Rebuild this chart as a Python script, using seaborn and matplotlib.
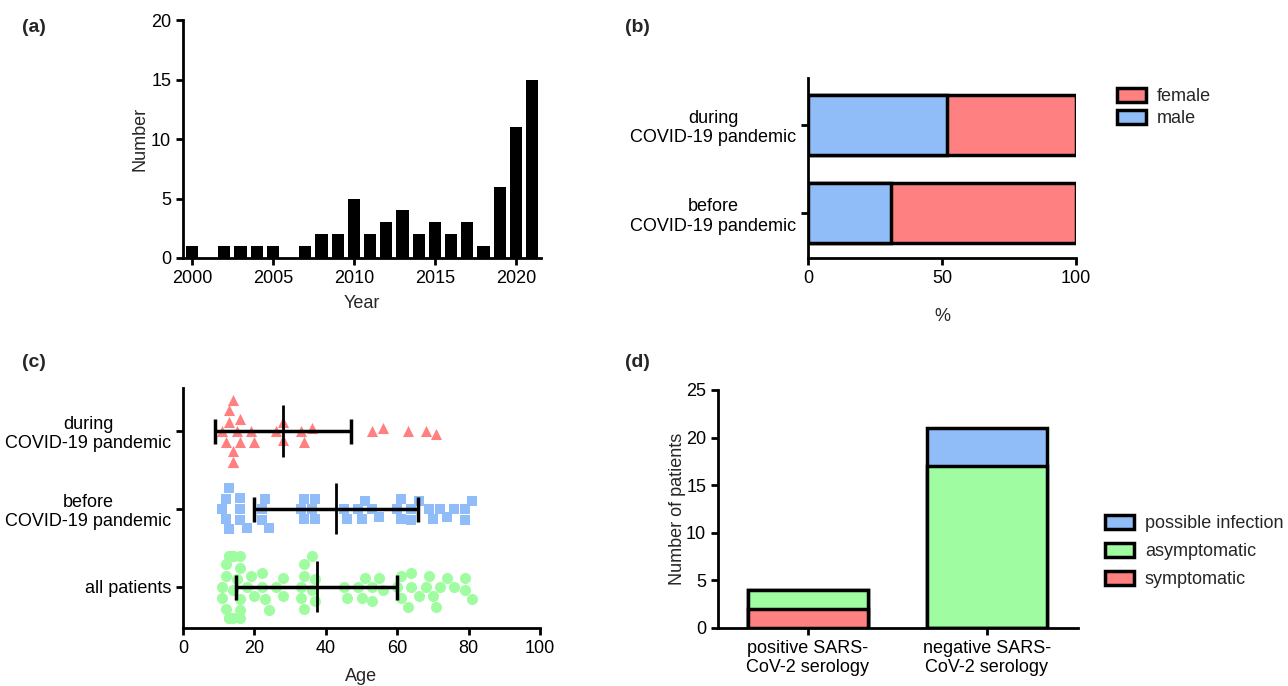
import numpy as np
import pandas as pd
import seaborn as sns
import matplotlib.pyplot as plt
from matplotlib.patches import Patch

# (a) publications per year
years = list(range(2000, 2022))
papers = [1, 0, 1, 1, 1, 1, 0, 1, 2, 2, 5, 2, 3, 4, 2, 3, 2, 3, 1, 6, 11, 15]

# (b) sex distribution (%)
groups_b = ['during\nCOVID-19 pandemic', 'before\nCOVID-19 pandemic']
male_pct = [52, 31]
female_pct = [48, 69]

# (c) age of patients
groups_c = ['during\nCOVID-19 pandemic', 'before\nCOVID-19 pandemic', 'all patients']
during_ages = [11, 12, 13, 13, 14, 14, 14, 14, 15, 16, 16, 19, 20, 26, 28, 28,
               33, 34, 36, 53, 56, 63, 68, 71]
before_ages = [11, 12, 12, 13, 13, 16, 16, 16, 18, 22, 22, 23, 24, 33, 34, 34,
               36, 37, 37, 45, 46, 49, 50, 51, 53, 55, 60, 61, 61, 64, 64, 66,
               69, 70, 72, 74, 76, 79, 79, 81]
all_ages = during_ages + before_ages
age_mean = [28.0, 42.8, 37.4]
age_sd = [19.0, 22.9, 22.6]

# (d) serology
serology = ['positive SARS-\nCoV-2 serology', 'negative SARS-\nCoV-2 serology']
symptomatic = [2, 0]
asymptomatic = [2, 17]
possible = [0, 4]

red = '#ff8080'
blue = '#90bdf7'
green = '#a0fca0'

sns.set_style('ticks')
plt.rcParams['font.family'] = ['Liberation Sans', 'DejaVu Sans']
plt.rcParams.update({
    'font.size': 13,
    'axes.linewidth': 2,
    'xtick.major.width': 2,
    'ytick.major.width': 2,
    'xtick.major.size': 5,
    'ytick.major.size': 5,
    'xtick.labelsize': 13,
    'ytick.labelsize': 13,
    'axes.labelsize': 13,
    'xtick.color': 'black',
    'ytick.color': 'black',
    'axes.edgecolor': 'black',
})

W, H = 1288, 686
fig = plt.figure(figsize=(W / 100, H / 100), dpi=100)


def box(l, t, r, b):
    return [l / W, 1 - b / H, (r - l) / W, (b - t) / H]


ax_a = fig.add_axes(box(183, 20, 541, 258))
ax_b = fig.add_axes(box(808, 78, 1076, 258))
ax_c = fig.add_axes(box(183, 388, 540, 628))
ax_d = fig.add_axes(box(718, 390, 1078, 628))

# ---- (a)
sns.barplot(x=years, y=papers, native_scale=True, color='black', width=0.75,
            saturation=1, linewidth=0, ax=ax_a)
ax_a.set_xlim(1999.45, 2021.55)
ax_a.set_ylim(0, 20)
ax_a.set_xticks(range(2000, 2021, 5))
ax_a.set_yticks(range(0, 21, 5))
ax_a.set_xlabel('Year', labelpad=6)
ax_a.set_ylabel('Number', labelpad=2)
sns.despine(ax=ax_a)

# ---- (b)
df_b = pd.DataFrame({'group': groups_b, 'male': male_pct, 'female': female_pct})
df_b['total'] = df_b['male'] + df_b['female']
sns.barplot(data=df_b, x='total', y='group', orient='h', color=red,
            edgecolor='black', linewidth=2.5, width=0.68, saturation=1, ax=ax_b)
sns.barplot(data=df_b, x='male', y='group', orient='h', color=blue,
            edgecolor='black', linewidth=2.5, width=0.68, saturation=1, ax=ax_b)
ax_b.set_xlim(0, 100)
ax_b.set_ylim(1.51, -0.53)
ax_b.set_xticks([0, 50, 100])
ax_b.set_xlabel('%', labelpad=15)
ax_b.set_ylabel('')
for t in ax_b.get_yticklabels():
    t.set_multialignment('center')
sns.despine(ax=ax_b)
fig.legend(handles=[Patch(facecolor=red, edgecolor='black', linewidth=2.5, label='female'),
                    Patch(facecolor=blue, edgecolor='black', linewidth=2.5, label='male')],
           loc='upper left', bbox_to_anchor=(1110 / W, 1 - 81 / H), frameon=False,
           handlelength=1.6, handleheight=0.8, labelspacing=0.25, handletextpad=0.6,
           borderaxespad=0, fontsize=13)

# ---- (c)
df_c = pd.concat([
    pd.DataFrame({'age': during_ages, 'group': groups_c[0]}),
    pd.DataFrame({'age': before_ages, 'group': groups_c[1]}),
    pd.DataFrame({'age': all_ages, 'group': groups_c[2]}),
])
markers = ['^', 's', 'o']
colors = [red, blue, green]
sizes = [8, 7.5, 8]
for g, m, c, s in zip(groups_c, markers, colors, sizes):
    sns.swarmplot(data=df_c[df_c['group'] == g], x='age', y='group', order=groups_c,
                  orient='h', marker=m, color=c, size=s, linewidth=0, ax=ax_c,
                  warn_thresh=1)
ypos = np.arange(len(groups_c))
ax_c.errorbar(age_mean, ypos, xerr=age_sd, fmt='none', ecolor='black',
              elinewidth=2.5, capsize=9, capthick=2.5, zorder=5)
ax_c.vlines(age_mean, ypos - 0.33, ypos + 0.33, color='black', lw=2, zorder=5)
ax_c.set_xlim(0, 100)
ax_c.set_ylim(2.53, -0.55)
ax_c.set_xticks(range(0, 101, 20))
ax_c.set_xlabel('Age', labelpad=8)
ax_c.set_ylabel('')
for t in ax_c.get_yticklabels():
    t.set_multialignment('center')
sns.despine(ax=ax_c)

# ---- (d)
df_d = pd.DataFrame({'serology': serology, 'sym': symptomatic,
                     'asym': asymptomatic, 'poss': possible})
df_d['sym_asym'] = df_d['sym'] + df_d['asym']
df_d['total'] = df_d['sym_asym'] + df_d['poss']
for col, c in [('total', blue), ('sym_asym', green), ('sym', red)]:
    sns.barplot(data=df_d, x='serology', y=col, color=c, edgecolor='black',
                linewidth=2.5, width=0.67, saturation=1, ax=ax_d)
ax_d.set_xlim(-0.5, 1.51)
ax_d.set_ylim(0, 25)
ax_d.set_yticks(range(0, 26, 5))
ax_d.set_xlabel('')
ax_d.set_ylabel('Number of patients', labelpad=0)
for t in ax_d.get_xticklabels():
    t.set_multialignment('center')
sns.despine(ax=ax_d)
fig.legend(handles=[Patch(facecolor=blue, edgecolor='black', linewidth=2.5, label='possible infection'),
                    Patch(facecolor=green, edgecolor='black', linewidth=2.5, label='asymptomatic'),
                    Patch(facecolor=red, edgecolor='black', linewidth=2.5, label='symptomatic')],
           loc='upper left', bbox_to_anchor=(1098 / W, 1 - 508 / H), frameon=False,
           handlelength=1.6, handleheight=0.8, labelspacing=0.6, handletextpad=0.6,
           borderaxespad=0, fontsize=13)

for lab, x, y in [('(a)', 22, 28), ('(b)', 625, 28), ('(c)', 22, 362), ('(d)', 625, 362)]:
    fig.text(x / W, 1 - y / H, lab, fontsize=14, fontweight='bold', va='center', ha='left')

fig.savefig('out.png', dpi=100)
